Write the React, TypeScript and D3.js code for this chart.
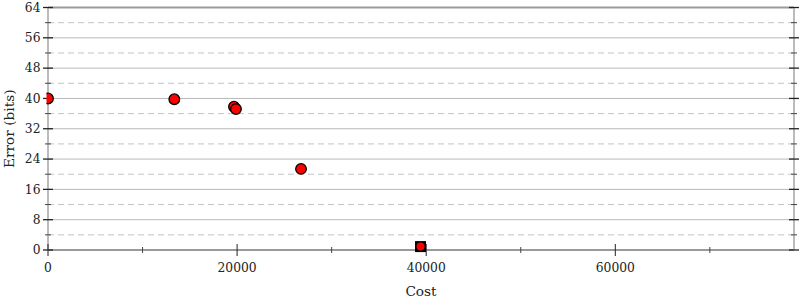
import React from "react";
import * as d3 from "d3";

const costs = [0, 13360, 19670, 19880, 26760];
const errors = [40.0, 39.8, 37.8, 37.2, 21.4];
const bestCost = [39400];
const bestError = [0.9];
const yMajorTicks = [0, 8, 16, 24, 32, 40, 48, 56, 64];
const yMinorTicks = [4, 12, 20, 28, 36, 44, 52, 60];
const xMajorTicks = [0, 20000, 40000, 60000];
const xMinorTicks = [10000, 30000, 50000, 70000];

const W = 800, H = 300;
const L = 48, R = 794, T = 7.5, B = 250;

export default function App() {
  const x = d3.scaleLinear().domain([0, 78900]).range([L, R]);
  const y = d3.scaleLinear().domain([0, 64]).range([B, T]);
  const font = "'DejaVu Serif', serif";
  return (
    <svg width={W} height={H} style={{ position: "absolute", left: 0, top: 0, background: "#fff" }}>
      <defs>
        <clipPath id="plot">
          <rect x={L - 1.5} y={0} width={R - L + 10} height={B + 10} />
        </clipPath>
      </defs>
      {yMinorTicks.map((t) => (
        <line key={"gm" + t} x1={L} x2={R} y1={y(t)} y2={y(t)} stroke="#c4c4c4" strokeWidth={1} strokeDasharray="6,4" />
      ))}
      {yMajorTicks.filter((t) => t !== 0 && t !== 64).map((t) => (
        <line key={"gM" + t} x1={L} x2={R} y1={y(t)} y2={y(t)} stroke="#b8b8b8" strokeWidth={1} />
      ))}
      <line x1={L} x2={R} y1={y(64)} y2={y(64)} stroke="#9a9a9a" strokeWidth={2} />
      <line x1={L} x2={R} y1={y(0)} y2={y(0)} stroke="#9a9a9a" strokeWidth={2} />
      <line x1={L} x2={L} y1={T} y2={B} stroke="#bbb" strokeWidth={2} />
      <line x1={R} x2={R} y1={T} y2={B} stroke="#bbb" strokeWidth={2} />
      {yMajorTicks.map((t) => (
        <g key={"yt" + t}>
          <line x1={L - 5} x2={L + 5} y1={y(t)} y2={y(t)} stroke="#222" strokeWidth={1.3} />
          <line x1={R - 5} x2={R + 5} y1={y(t)} y2={y(t)} stroke="#222" strokeWidth={1.3} />
          <text x={L - 7.5} y={y(t)} dy="0.35em" textAnchor="end" fontFamily={font} fontSize={12.3} fill="#222">{t}</text>
        </g>
      ))}
      {yMinorTicks.map((t) => (
        <g key={"ym" + t}>
          <line x1={L - 3} x2={L + 3} y1={y(t)} y2={y(t)} stroke="#444" strokeWidth={1} />
          <line x1={R - 3} x2={R + 3} y1={y(t)} y2={y(t)} stroke="#444" strokeWidth={1} />
        </g>
      ))}
      {xMajorTicks.map((t) => (
        <g key={"xt" + t}>
          <line x1={x(t)} x2={x(t)} y1={B - 6} y2={B + 6} stroke="#222" strokeWidth={1} />
          <text x={x(t)} y={272} textAnchor="middle" fontFamily={font} fontSize={12.3} fill="#222">{t}</text>
        </g>
      ))}
      {xMinorTicks.map((t) => (
        <line key={"xm" + t} x1={x(t)} x2={x(t)} y1={B - 3} y2={B + 3} stroke="#444" strokeWidth={1} />
      ))}
      <text x={(L + R) / 2} y={296} textAnchor="middle" fontFamily={font} fontSize={13.7} fill="#222">Cost</text>
      <text transform={`translate(14,${(T + B) / 2}) rotate(-90)`} textAnchor="middle" fontFamily={font} fontSize={13.7} fill="#222">Error (bits)</text>
      <g clipPath="url(#plot)">
        {costs.map((c, i) => (
          <circle key={"p" + i} cx={x(c)} cy={y(errors[i])} r={5.3} fill="#f00" stroke="#000" strokeWidth={1.3} />
        ))}
        {bestCost.map((c, i) => (
          <g key={"b" + i}>
            <rect x={x(c) - 5.5} y={y(bestError[i]) - 5.5} width={11} height={11} fill="#000" />
            <circle cx={x(c)} cy={y(bestError[i])} r={4} fill="#f00" />
          </g>
        ))}
      </g>
    </svg>
  );
}
